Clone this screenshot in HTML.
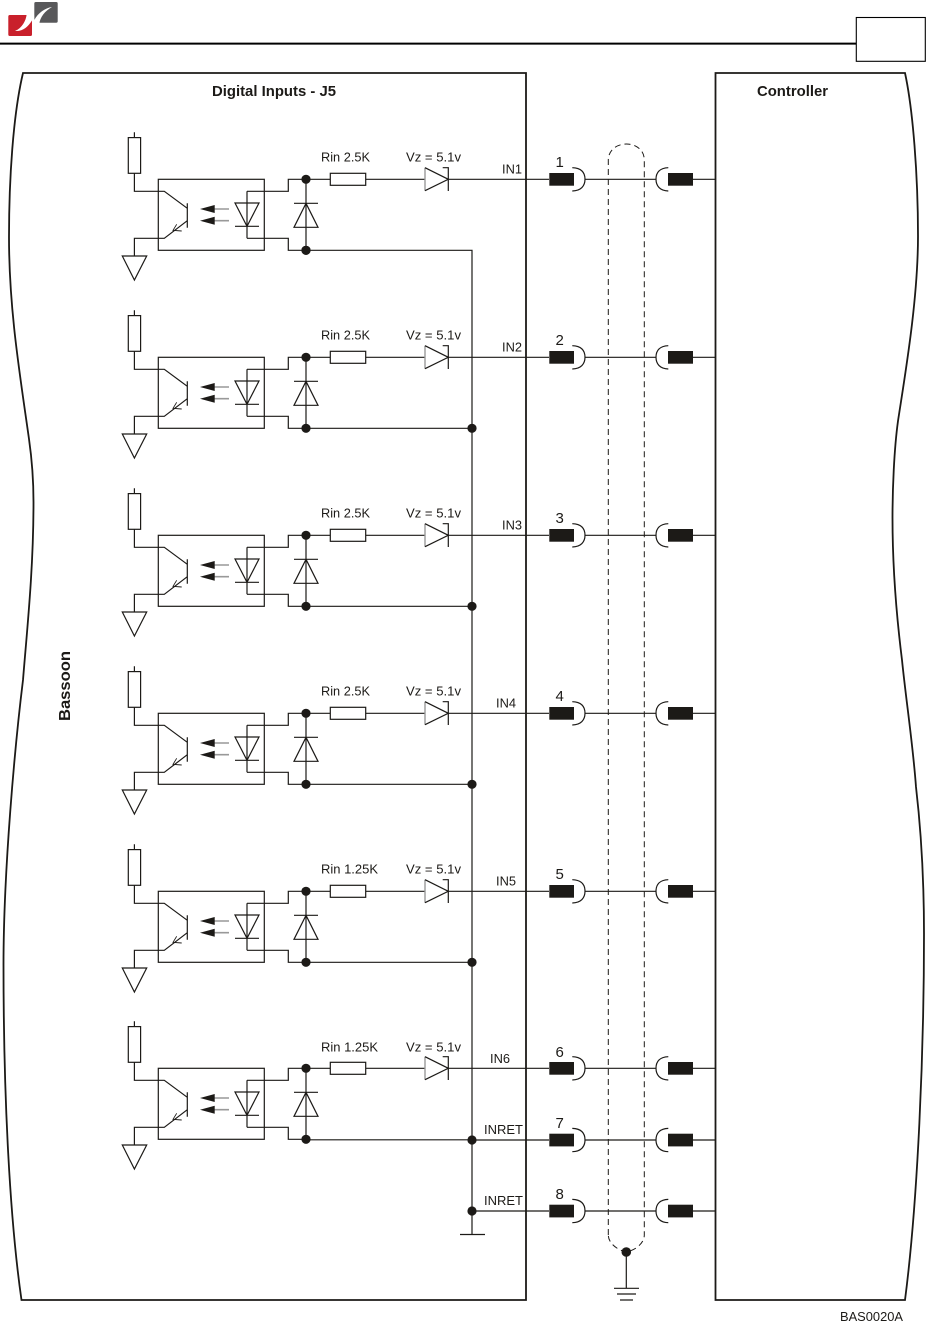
<!DOCTYPE html>
<html><head><meta charset="utf-8"><style>
html,body{margin:0;padding:0;background:#fff}
svg{display:block}
text{font-family:"Liberation Sans",sans-serif;fill:#1c1a17}
.s{font-size:13px}
.n{font-size:15px}
.b{font-size:15px;font-weight:bold}
</style></head><body>
<svg width="926" height="1322" viewBox="0 0 926 1322" xmlns="http://www.w3.org/2000/svg">
<defs>
<g id="opto" fill="none" stroke="#1c1a17" stroke-width="1.2">
 <rect x="128.3" y="-41.7" width="12.3" height="35.7"/>
 <path d="M134.4,-47V-41.7M134.4,-6V12H164.3L187.3,29M187.3,24V48.4M187.3,41.4L164.3,59H134.4V76.7"/>
 <path d="M122.3,76.7H146.7L134.4,100.7Z"/>
 <path d="M176.7,45L173,51L181.7,51.7" stroke-width=".9"/>
 <rect x="158.3" y="0" width="106" height="71"/>
 <path d="M214,29.7H229M214,41.4H229" stroke="#999" stroke-width="1.6"/>
 <path d="M200,29.7L214.7,25.7V33.7ZM200,41.4L214.7,37.4V45.4Z" fill="#1c1a17" stroke="none"/>
 <path d="M235,23.7H259L247,47Z"/>
 <path d="M235,47H259M247,12V59"/>
 <path d="M247,12H288.3V0H330.3M247,59H288.3V71H306"/>
 <path d="M294,24H318M306,0V71M306,24L318,48H294Z"/>
 <rect x="330.3" y="-6" width="35.4" height="12"/>
 <path d="M365.7,0H425"/>
 <path d="M425,-11.6V11.4" stroke="#999" stroke-width="1.4"/>
 <path d="M425,-11.6L448.3,0L425,11.4M442.7,-11.6H448.3V11.7"/>
 <circle cx="306" cy="0" r="4.6" fill="#1c1a17" stroke="none"/>
 <circle cx="306" cy="71" r="4.6" fill="#1c1a17" stroke="none"/>
</g>
<g id="conn" fill="none" stroke="#1c1a17" stroke-width="1.2">
 <path d="M526,0H549M585,0H656M693,0H716"/>
 <rect x="549.3" y="-6.3" width="24.7" height="12.7" fill="#1c1a17" stroke="none"/>
 <rect x="668" y="-6.3" width="25" height="12.7" fill="#1c1a17" stroke="none"/>
 <path d="M572.3,-11.6C581,-11.3 585,-7 585,0C585,6.7 581,11.5 572.3,11.7"/>
 <path d="M668.3,-11.6C660,-11.3 656,-7 656,0C656,6.7 660,11.5 668.3,11.7"/>
</g>
</defs>

<!-- header -->
<rect x="8.3" y="15" width="23.7" height="21" rx="1.5" fill="#c9202b"/>
<rect x="34.3" y="2" width="23.4" height="20.7" rx="1.5" fill="#58585a"/>
<path d="M52,7C45,8 38,13 34.3,20L34,14H26.7C26,21 22,28 15,31C23,31.5 28,27 32.3,20L33,24H39.3C40,17 45,11 52,7Z" fill="#fff"/>
<path d="M0,43.6H856" stroke="#000" stroke-width="2"/>
<rect x="856.3" y="17.5" width="69" height="43.8" fill="#fff" stroke="#000" stroke-width="1.1"/>

<!-- panels -->
<path d="M526,73H23C13,115 9,180 9,237C9,310 20,375 29,439C32,460 33.5,480 33.5,502C33.5,570 27,630 23,680C15,745 3.5,870 3.5,965C3.5,1100 10,1220 21.5,1300H526Z" fill="none" stroke="#1c1a17" stroke-width="1.8"/>
<path d="M715.5,73H905C913,110 918,175 918,236C918,300 905,375 898,421C894,450 892.5,490 892.5,518C892.5,570 897,620 902,660C906,700 913,745 916,787C921,830 924,880 924,934C924,1050 918,1200 905,1300H715.5Z" fill="none" stroke="#1c1a17" stroke-width="1.8"/>

<!-- channels -->
<use href="#opto" transform="translate(0,179.3)"/>
<use href="#opto" transform="translate(0,357.3)"/>
<use href="#opto" transform="translate(0,535.3)"/>
<use href="#opto" transform="translate(0,713.3)"/>
<use href="#opto" transform="translate(0,891.3)"/>
<use href="#opto" transform="translate(0,1068.3)"/>

<!-- bus -->
<g fill="none" stroke="#1c1a17" stroke-width="1.2">
 <path d="M306,250.3H472V1234.5M460,1234.5H485"/>
 <path d="M306,428.3H472M306,606.3H472M306,784.3H472M306,962.3H472M306,1139.8H472"/>
 <path d="M448.3,179.3H526M448.3,357.3H526M448.3,535.3H526M448.3,713.3H526M448.3,891.3H526M448.3,1068.3H526M472,1140H526M472,1211H526"/>
</g>
<g fill="#1c1a17">
 <circle cx="306" cy="250.3" r="4.6"/>
 <circle cx="472" cy="428.3" r="4.6"/>
 <circle cx="472" cy="606.3" r="4.6"/>
 <circle cx="472" cy="784.3" r="4.6"/>
 <circle cx="472" cy="962.3" r="4.6"/>
 <circle cx="472" cy="1140" r="4.6"/>
 <circle cx="472" cy="1211" r="4.6"/>
</g>

<!-- connectors -->
<use href="#conn" transform="translate(0,179.3)"/>
<use href="#conn" transform="translate(0,357.3)"/>
<use href="#conn" transform="translate(0,535.3)"/>
<use href="#conn" transform="translate(0,713.3)"/>
<use href="#conn" transform="translate(0,891.3)"/>
<use href="#conn" transform="translate(0,1068.3)"/>
<use href="#conn" transform="translate(0,1140)"/>
<use href="#conn" transform="translate(0,1211)"/>

<!-- shield -->
<path d="M608.3,1235V160C608.3,150 617,144 626.3,144C636,144 644.3,150 644.3,160V1235C644.3,1243 636,1250 626.3,1252C617,1250 608.3,1243 608.3,1235Z" fill="none" stroke="#1c1a17" stroke-width="1" stroke-dasharray="6 4"/>
<circle cx="626.3" cy="1252" r="4.8" fill="#1c1a17"/>
<path d="M626.3,1252V1288.3M614,1288.3H639M617,1294H636M620,1300H633" fill="none" stroke="#1c1a17" stroke-width="1.2"/>

<!-- labels -->
<text class="b" x="212" y="96" textLength="124" lengthAdjust="spacingAndGlyphs">Digital Inputs - J5</text>
<text class="b" x="757" y="96" textLength="71" lengthAdjust="spacingAndGlyphs">Controller</text>
<text class="b" transform="translate(70,721) rotate(-90)" style="font-size:15.5px" textLength="70" lengthAdjust="spacingAndGlyphs">Bassoon</text>

<text class="s" x="321" y="161.5" textLength="49" lengthAdjust="spacingAndGlyphs">Rin 2.5K</text>
<text class="s" x="321" y="339.5" textLength="49" lengthAdjust="spacingAndGlyphs">Rin 2.5K</text>
<text class="s" x="321" y="517.5" textLength="49" lengthAdjust="spacingAndGlyphs">Rin 2.5K</text>
<text class="s" x="321" y="695.5" textLength="49" lengthAdjust="spacingAndGlyphs">Rin 2.5K</text>
<text class="s" x="321" y="873.5" textLength="57" lengthAdjust="spacingAndGlyphs">Rin 1.25K</text>
<text class="s" x="321" y="1051.5" textLength="57" lengthAdjust="spacingAndGlyphs">Rin 1.25K</text>

<text class="s" x="406" y="161.5" textLength="55" lengthAdjust="spacingAndGlyphs">Vz = 5.1v</text>
<text class="s" x="406" y="339.5" textLength="55" lengthAdjust="spacingAndGlyphs">Vz = 5.1v</text>
<text class="s" x="406" y="517.5" textLength="55" lengthAdjust="spacingAndGlyphs">Vz = 5.1v</text>
<text class="s" x="406" y="695.5" textLength="55" lengthAdjust="spacingAndGlyphs">Vz = 5.1v</text>
<text class="s" x="406" y="873.5" textLength="55" lengthAdjust="spacingAndGlyphs">Vz = 5.1v</text>
<text class="s" x="406" y="1051.5" textLength="55" lengthAdjust="spacingAndGlyphs">Vz = 5.1v</text>

<text class="s" x="502" y="173.5" textLength="20" lengthAdjust="spacingAndGlyphs">IN1</text>
<text class="s" x="502" y="351.5" textLength="20" lengthAdjust="spacingAndGlyphs">IN2</text>
<text class="s" x="502" y="529.5" textLength="20" lengthAdjust="spacingAndGlyphs">IN3</text>
<text class="s" x="496" y="707.5" textLength="20" lengthAdjust="spacingAndGlyphs">IN4</text>
<text class="s" x="496" y="885.5" textLength="20" lengthAdjust="spacingAndGlyphs">IN5</text>
<text class="s" x="490" y="1063" textLength="20" lengthAdjust="spacingAndGlyphs">IN6</text>
<text class="s" x="484" y="1134" textLength="39" lengthAdjust="spacingAndGlyphs">INRET</text>
<text class="s" x="484" y="1205" textLength="39" lengthAdjust="spacingAndGlyphs">INRET</text>

<text class="n" x="555.5" y="167">1</text>
<text class="n" x="555.5" y="345">2</text>
<text class="n" x="555.5" y="523">3</text>
<text class="n" x="555.5" y="701">4</text>
<text class="n" x="555.5" y="879">5</text>
<text class="n" x="555.5" y="1057">6</text>
<text class="n" x="555.5" y="1128">7</text>
<text class="n" x="555.5" y="1199">8</text>

<text class="s" x="840" y="1321" textLength="63" lengthAdjust="spacingAndGlyphs">BAS0020A</text>
</svg>
</body></html>
